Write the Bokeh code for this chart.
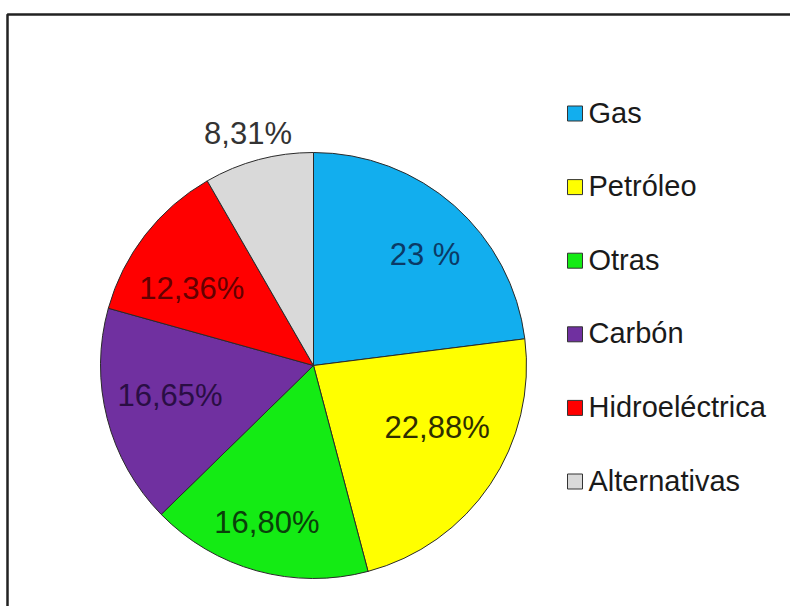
import math

from bokeh.core.properties import value
from bokeh.embed import file_html
from bokeh.models import ColumnDataSource, Range1d
from bokeh.plotting import figure
from bokeh.resources import INLINE

# Energy mix shares (%)
categories = ["Gas", "Petróleo", "Otras", "Carbón", "Hidroeléctrica", "Alternativas"]
shares = [23.0, 22.88, 16.80, 16.65, 12.36, 8.31]
labels = ["23 %", "22,88%", "16,80%", "16,65%", "12,36%", "8,31%"]

colors = ["#12AEEE", "#FFFF00", "#14EB14", "#7030A0", "#FF0000", "#D9D9D9"]
label_colors = ["#0B3A66", "#2E2E00", "#0A400A", "#2A0E44", "#640000", "#333333"]

W, H = 790, 606
FONT = value("Liberation Sans")

p = figure(width=W, height=H, output_backend="svg", toolbar_location=None,
           x_range=Range1d(0, W), y_range=Range1d(0, H), min_border=0,
           background_fill_color="white", border_fill_color="white")
p.axis.visible = False
p.grid.visible = False
p.outline_line_color = None


def sy(py):
    """Convert a top-down pixel row into the upward y data coordinate."""
    return H - py


# outer frame (continues past the right and bottom edges)
p.quad(left=[7], right=[W + 20], top=[sy(14)], bottom=[sy(H + 20)],
       fill_color=None, line_color="#222222", line_width=2.5)

# pie: starts at 12 o'clock and runs clockwise
cx, cy, r = 313, sy(365), 213
total = sum(shares)
starts, ends, mids = [], [], []
acc = 0.0
for v in shares:
    a0 = math.pi / 2 - 2 * math.pi * acc / total
    acc += v
    a1 = math.pi / 2 - 2 * math.pi * acc / total
    starts.append(a0)
    ends.append(a1)
    mids.append((a0 + a1) / 2)

src = ColumnDataSource(dict(cat=categories, val=shares, start=starts, end=ends, color=colors))
p.wedge(x=cx, y=cy, radius=r, radius_units="screen", start_angle="start", end_angle="end",
        direction="clock", fill_color="color", line_color="#2a2a2a", line_width=1, source=src)

# data labels: radial placement, with small per-label nudges (pixels)
radial = [0.70, 0.70, 0.70, 0.70, 0.70, 1.10]
nudge = [(13, 1), (0, -21), (-7, 13), (1, -7), (-4, 14), (-5, -6)]
lx, ly = [], []
for m, f, (dx, dy) in zip(mids, radial, nudge):
    lx.append(cx + r * f * math.cos(m) + dx)
    ly.append(cy + r * f * math.sin(m) - dy)
p.text(x=lx, y=ly, text=labels, text_color=label_colors, text_font=FONT,
       text_font_size="31px", text_align="center", text_baseline="middle")

# legend
row0, step = 113, 73.6
ry = [sy(row0 + i * step) for i in range(len(categories))]
p.rect(x=[574.5] * len(categories), y=ry, width=15, height=15,
       width_units="screen", height_units="screen",
       fill_color=colors, line_color="#333333", line_width=1)
p.text(x=[588] * len(categories), y=[v + 1 for v in ry], text=categories,
       text_color="#1a1a1a", text_font=FONT, text_font_size="29px",
       text_align="left", text_baseline="middle")

open("out.html", "w").write(file_html(p, INLINE))
